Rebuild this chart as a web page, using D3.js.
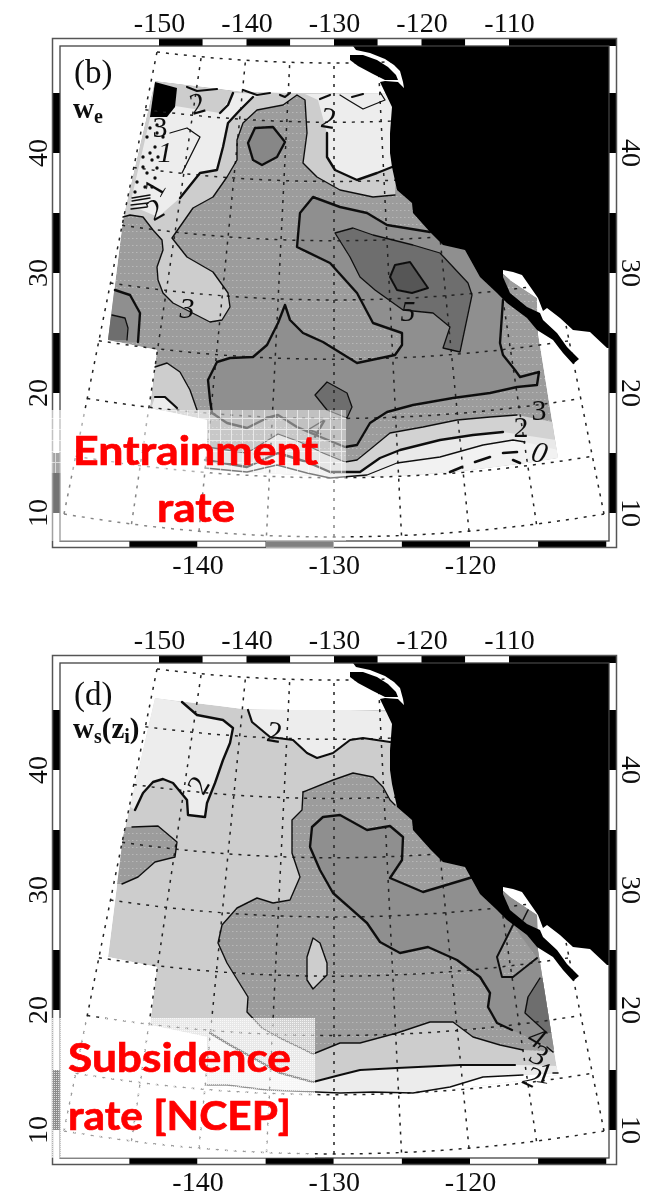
<!DOCTYPE html>
<html><head><meta charset="utf-8">
<script src="https://cdn.jsdelivr.net/npm/d3@7"></script>
<style>html,body{margin:0;padding:0;background:#fff}svg{display:block}text{font-family:"Liberation Serif",serif}</style>
</head><body><svg id="c" width="656" height="1196"></svg>
<script>
// ---- axes
const topLon=[-150,-140,-130,-120,-110], bottomLon=[-140,-130,-120], latLabels=[10,20,30,40];
const lonGrid=[-150,-145,-140,-135,-130,-125,-120,-115,-110], latGrid=[10,15,20,25,30,35,40,45,50];
// ---- shared map outlines (map units of panel b)
const domainOutline=[[155,81],[187,85],[220,89],[243,92],[290,93],[360,93],[396,93],[420,200],[510,280],[537,298],[538,333],[558,458],[527,463],[463,471],[403,476],[335,477],[207,470],[207,420],[150,408],[157,350],[108,340],[123,220]];
const landOutline=[[353,46],[356,50],[370,53],[385,59],[394,65],[400,71],[403,82],[404,88],[398,82],[385,81],[380,82],[392,107],[390,133],[390,153],[392,167],[397,190],[412,203],[413,213],[430,232],[443,245],[465,250],[480,277],[497,293],[507,303],[527,318],[537,330],[553,340],[563,353],[573,364],[579,359],[567,347],[557,333],[543,320],[540,313],[527,307],[510,293],[503,277],[503,270],[513,272],[522,275],[538,298],[543,311],[547,308],[560,318],[573,330],[590,332],[607,348],[609,348],[609,46]];
const islandOutline=[[350,55],[363,55],[377,60],[388,67],[396,75],[398,80],[385,80],[373,74],[358,66],[350,60]];
// ---- panel b contours
const bUpper=[[123,217],[130,215],[143,217],[153,230],[162,240],[163,250],[157,267],[158,280],[163,293],[173,303],[210,322],[222,320],[230,307],[228,293],[213,272],[187,257],[172,238],[193,208],[213,197],[227,177],[237,160],[237,140],[243,123],[257,110],[283,105],[297,95],[305,100],[307,133],[303,163],[317,177],[340,190],[373,197],[395,195]];
const bMain=[[430,232],[387,225],[367,213],[340,207],[313,197],[300,213],[297,247],[330,263],[357,293],[373,323],[402,333],[402,345],[395,355],[357,363],[323,342],[303,333],[290,320],[285,305],[278,323],[267,345],[253,357],[230,358],[217,362],[208,380],[210,400],[212,413],[227,423],[247,428],[267,418],[278,415],[297,427],[323,438],[345,447],[357,445],[370,423],[387,412],[413,405],[453,398],[490,393],[517,387],[537,385],[539,372],[520,377],[515,370],[503,355],[500,343],[503,300]];
const bDark=[[335,233],[353,228],[373,235],[413,245],[440,253],[468,283],[472,295],[460,352],[443,348],[450,327],[433,313],[403,310],[375,290],[360,277],[350,257]];
const bCore=[[390,277],[395,265],[410,262],[428,288],[412,293],[397,290]];
const bNorthCell=[[248,143],[255,128],[273,127],[285,142],[277,157],[262,165],[253,160]];
const bWestCell=[[115,290],[130,295],[140,313],[138,342]];
const bWestCore=[[112,315],[125,318],[128,328],[127,340]];
const bSouthCell=[[315,395],[327,382],[347,393],[352,407],[347,418],[327,410]];
const bLowLeft=[[155,367],[167,363],[180,372],[190,390],[197,410]];
const bLowLeftInner=[[155,397],[165,397],[177,408]];
const bLightWest=[[150,118],[175,106],[220,113],[233,93],[272,94],[253,97],[240,110],[228,123],[223,147],[217,170],[200,173],[180,198],[158,217],[130,205]];
const bLightEast=[[318,100],[327,133],[327,157],[335,170],[357,180],[377,173],[392,167]];
const bInnerThin=[[170,133],[187,128],[200,137],[182,173]];
const bBand2=[[207,447],[247,453],[278,434],[300,442],[323,453],[345,462],[357,460],[373,447],[390,433],[423,427],[457,420],[490,417],[517,415]];
const bBand3=[[205,460],[247,467],[278,453],[307,462],[330,472],[360,472],[380,458],[400,450],[440,440],[473,435],[503,432]];
const bBand4=[[205,468],[247,472],[277,465],[307,473],[330,478],[367,475],[397,463],[440,457],[483,445],[513,440],[525,442]];
const bDashes=[[[450,472],[462,467]],[[475,462],[490,457]],[[503,453],[517,452]],[[513,460],[520,463]]];
const bTopBits=[[[187,87],[197,91],[217,89]],[[243,90],[257,95],[270,93]],[[280,95],[285,97],[290,93]],[[320,99],[330,95]],[[352,97],[363,94]]];
const bThickBits=[[[233,93],[228,105],[220,113]]];
const bThinBits=[[[340,95],[348,100],[363,109],[385,100],[380,92]]];
const bSpeckle=[[157,125],[150,128],[157,133],[147,137],[163,137],[155,147],[150,153],[158,157],[143,157],[152,160],[143,167],[157,168],[147,173],[155,178],[145,187],[137,182],[135,192],[152,187]];
const bStrokes=[[[132,198],[150,195]],[[132,201],[150,198]],[[131,205],[148,203]],[[131,209],[147,207]]];
const bBlob=[[155,82],[177,88],[175,107],[167,117],[150,117]];
const bNumbers=[["2",200,113,-15,0],["2",327,128,10,0],["3",160,137,0,0],["1",165,162,0,1],["1",163,193,-60,0],["2",160,218,-30,0],["3",187,318,0,1],["5",408,321,0,1],["3",539,420,0,0],["2",521,437,0,0],["0",537,462,15,1],["4",313,437,20,1]];
// ---- panel d contours
const dNorthWest=[[182,702],[197,715],[223,720],[233,728],[230,743],[223,760],[215,783],[207,803],[205,817],[188,815],[187,800],[173,783],[163,779],[153,782],[143,793],[135,810]];
const dNorthEast=[[248,710],[252,722],[258,727],[270,737],[293,740],[307,753],[317,758],[333,753],[350,740],[363,738],[390,742]];
const dMid=[[303,792],[333,780],[353,773],[373,777],[383,787],[390,800],[395,805]];
const dMidLeft=[[303,792],[302,810],[292,820],[292,853],[300,877],[290,900],[273,903],[257,898],[237,908],[222,925],[218,943],[227,963],[248,997],[247,1012],[262,1028],[280,1038],[313,1054],[340,1043],[360,1043],[397,1033],[430,1022],[453,1022],[473,1037],[500,1045],[523,1050]];
const dMain=[[473,877],[423,892],[390,878],[402,860],[403,837],[390,826],[367,830],[340,815],[323,817],[312,827],[310,847],[320,870],[333,893],[367,923],[380,942],[400,953],[428,947],[457,960],[480,977],[490,993],[488,1007],[497,1023],[512,1030]];
const dGulfLobe=[[513,925],[497,957],[502,977],[513,977],[537,958]];
const dWestLobe=[[132,827],[158,826],[177,842],[175,857],[155,862],[138,877],[122,884]];
const dTear=[[313,938],[307,957],[307,980],[313,989],[327,975],[327,963],[320,943]];
const dEastCell=[[540,978],[528,997],[525,1013],[547,1033]];
const dBand2=[[210,1033],[230,1045],[257,1060],[280,1073],[313,1082],[340,1075],[360,1070],[397,1068],[460,1065],[515,1065]];
const dBand3=[[207,1085],[227,1085],[267,1090],[340,1093],[373,1092],[413,1093],[450,1087],[483,1077],[523,1075]];
const dBits=[[[528,910],[523,920]],[[547,1047],[553,1052]],[[553,1073],[558,1073]]];
const dNumbers=[["2",273,742,10,0],["2",207,790,-60,0],["4",532,1046,30,1],["3",535,1064,25,1],["2",528,1086,25,1],["1",543,1083,10,1]];

const svg=d3.select("#c");
const defs=svg.append("defs");
const dots=defs.append("pattern").attr("id","dots").attr("width",4).attr("height",7).attr("patternUnits","userSpaceOnUse");
dots.append("rect").attr("width",1.5).attr("height",1).attr("fill","#fff").attr("opacity",.28);
const gridP=defs.append("pattern").attr("id","gridP").attr("width",11).attr("height",11).attr("patternUnits","userSpaceOnUse");
gridP.append("rect").attr("width",11).attr("height",11).attr("fill","#fff").attr("opacity",.45);
gridP.append("path").attr("d","M0 .5H11M.5 0V11").attr("stroke","#fff").attr("stroke-width",1).attr("opacity",.6);
const fineP=defs.append("pattern").attr("id","fineP").attr("width",2).attr("height",2).attr("patternUnits","userSpaceOnUse");
fineP.append("rect").attr("width",2).attr("height",2).attr("fill","#fff").attr("opacity",.55);
fineP.append("rect").attr("width",1).attr("height",1).attr("fill","#fff").attr("opacity",.7);
defs.append("filter").attr("id","soft").attr("x","-2%").attr("y","-2%").attr("width","104%").attr("height","104%").append("feGaussianBlur").attr("stdDeviation",.45);

const xMap=d3.scaleLinear([0,656],[0,656]);
const yAbs=d3.scaleLinear([0,1196],[0,1196]);
const PANEL_SHIFT=617;
const yShifted=d3.scaleLinear([0,600],[PANEL_SHIFT,600+PANEL_SHIFT]);
const lineOf=y=>d3.line().x(d=>xMap(d[0])).y(d=>y(d[1]));

// graticule through scales of latitude
const rowY=d3.scaleLinear([10,50],[537,63]);
const perDeg=d3.scaleLinear([10,50],[13.5,8.85]);
const sag=d3.scaleLinear([10,50],[.0575,.0275]);
const project=(lon,lat)=>{const dl=lon+130;return [334+dl*perDeg(lat),rowY(lat)-sag(lat)*dl*dl];};
const topTick=d3.scaleLinear([-150,-110],[159,509]);
const botTick=d3.scaleLinear([-140,-120],[197.5,470]);
const latTick=d3.scaleLinear([10,40],[513,153]);

function fill(g,pts,color,y,pattern){
  const d=lineOf(y)(pts)+"Z";
  g.append("path").attr("d",d).attr("fill",color);
  if(pattern) g.append("path").attr("d",d).attr("fill","url(#dots)");
}
function stroke(g,pts,w,y,closed){
  g.append("path").attr("d",lineOf(y)(pts)+(closed?"Z":"")).attr("fill","none").attr("stroke","#111").attr("stroke-width",w).attr("stroke-linejoin","round").attr("stroke-linecap","round");
}
function number(g,rows,y){
  rows.forEach(([t,px,py,rot,it])=>{
    g.append("text").text(t).attr("transform",`translate(${xMap(px)},${y(py)}) rotate(${rot})`)
     .attr("text-anchor","middle").attr("font-size",30).attr("font-style",it?"italic":"normal").attr("fill","#111");
  });
}

function frame(root,dy){
  const h=root.append("g").attr("transform",`translate(0,${dy})`);
  const band=(x,y,w,ht,c)=>h.append("rect").attr("x",x).attr("y",y).attr("width",w).attr("height",ht).attr("fill",c);
  lonGrid.slice(0,-1).forEach((l,i)=>band(topTick(l),38,topTick(l+5)-topTick(l),8,i%2?"#fff":"#000"));
  band(topTick(-110),38,617-topTick(-110),8,"#000");
  lonGrid.slice(1,-1).forEach((l,i)=>band(botTick(l),541,botTick(l+5)-botTick(l),7,i%2?"#fff":"#000"));
  latGrid.slice(0,-2).forEach((l,i)=>{
    const c=i%2?"#fff":"#000";
    band(52,latTick(l+5),8,latTick(l)-latTick(l+5),c);
    band(609,latTick(l+5),8,latTick(l)-latTick(l+5),c);
  });
  h.append("rect").attr("x",52.5).attr("y",38.5).attr("width",564).attr("height",509).attr("fill","none").attr("stroke","#555").attr("stroke-width",1.5);
  h.append("rect").attr("x",60).attr("y",46).attr("width",549).attr("height",495).attr("fill","none").attr("stroke","#444").attr("stroke-width",1.3);
  const styleAxis=a=>{a.select(".domain").remove();a.selectAll("line").remove();a.selectAll("text").attr("font-family","Liberation Serif").attr("font-size",28).attr("fill","#111");};
  h.append("g").attr("transform","translate(0,39)").call(d3.axisTop(topTick).tickValues(topLon).tickSize(0).tickPadding(7).tickFormat(d=>String(d))).call(styleAxis);
  h.append("g").attr("transform","translate(0,546)").call(d3.axisBottom(botTick).tickValues(bottomLon).tickSize(0).tickPadding(8).tickFormat(d=>String(d))).call(styleAxis);
  latLabels.forEach(v=>{
    h.append("text").text(v).attr("transform",`translate(47,${latTick(v)}) rotate(-90)`).attr("text-anchor","middle").attr("font-size",28).attr("fill","#111");
    h.append("text").text(v).attr("transform",`translate(622,${latTick(v)}) rotate(90)`).attr("text-anchor","middle").attr("font-size",28).attr("fill","#111");
  });
}

function graticule(g,dy){
  const gr=d3.line();
  const draw=pts=>g.append("path").attr("d",gr(pts.map(p=>[p[0],p[1]+dy]))).attr("fill","none").attr("stroke","#222").attr("stroke-width",1.5).attr("stroke-dasharray","3 6");
  lonGrid.forEach(l=>draw(d3.range(10,50.01,2).map(a=>project(l,a))));
  latGrid.forEach(a=>draw(d3.range(-150,-109.9,2).map(l=>project(l,a))));
}
function landLayer(g,y){
  g.append("path").attr("d",lineOf(y)(landOutline)+"Z").attr("fill","#000");
  g.append("path").attr("d",lineOf(y)(islandOutline)+"Z").attr("fill","#000");
}
const soft=g=>g.attr("filter","url(#soft)");

// ======= PANEL B
const gb=soft(svg.append("g"));
defs.append("clipPath").attr("id","domB").append("path").attr("d",lineOf(yAbs)(domainOutline)+"Z");
const mb=gb.append("g").attr("clip-path","url(#domB)");
const M="#8f8f8f",S="#9c9c9c",L="#cdcdcd",E="#ededed",D="#6e6e6e";
fill(mb,domainOutline,S,yAbs,true);
fill(mb,[...bUpper,[400,93],[290,93],[243,92],[155,81]],L,yAbs);
fill(mb,[...bLightWest],E,yAbs);
fill(mb,[...bLightEast,[400,93],[305,94]],E,yAbs);
fill(mb,[...bMain,[520,250]],M,yAbs);
fill(mb,bDark,D,yAbs);
fill(mb,bCore,"#565656",yAbs);
fill(mb,bNorthCell,"#878787",yAbs);
fill(mb,[...bWestCell,[100,342],[100,290]],M,yAbs);
fill(mb,[...bWestCore,[100,340],[100,315]],D,yAbs);
fill(mb,bSouthCell,D,yAbs);
fill(mb,[...bLowLeft,[150,412]],L,yAbs);
fill(mb,[...bLowLeftInner,[150,412]],E,yAbs);
const bTail=[[558,458],[527,463],[463,471],[403,476],[335,477],[205,475]];
fill(mb,[...bBand2,[553,422],...bTail],"#d2d2d2",yAbs);
fill(mb,[...bBand3,[556,440],...bTail],"#e9e9e9",yAbs);
fill(mb,[...bBand4,[558,450],...bTail],"#f2f2f2",yAbs);
fill(mb,bBlob,"#000",yAbs);
graticule(gb,0);
stroke(gb,bUpper,1.4,yAbs);
stroke(gb,bMain,2.4,yAbs);
stroke(gb,bDark,1.3,yAbs,true);
stroke(gb,bCore,2,yAbs,true);
stroke(gb,bNorthCell,2.4,yAbs,true);
stroke(gb,bWestCell,2.4,yAbs);
stroke(gb,bWestCore,1.3,yAbs);
stroke(gb,bSouthCell,1.3,yAbs,true);
stroke(gb,bLowLeft,1.4,yAbs);
stroke(gb,bLowLeftInner,2.2,yAbs);
stroke(gb,bLightWest.slice(5,12),2.4,yAbs);
stroke(gb,bLightEast.slice(1),2.4,yAbs);
stroke(gb,bInnerThin,1.3,yAbs);
stroke(gb,bBand2,1.3,yAbs);
stroke(gb,bBand3,2.4,yAbs);
stroke(gb,bBand4,1.3,yAbs);
bDashes.forEach(p=>stroke(gb,p,2.6,yAbs));
bTopBits.forEach(p=>stroke(gb,p,2.2,yAbs));
bThickBits.forEach(p=>stroke(gb,p,2.4,yAbs));
bThinBits.forEach(p=>stroke(gb,p,1.3,yAbs));
bStrokes.forEach(p=>stroke(gb,p,1.4,yAbs));
gb.selectAll("circle.sp").data(bSpeckle).join("circle").attr("class","sp").attr("cx",d=>xMap(d[0])).attr("cy",d=>yAbs(d[1])).attr("r",1.7).attr("fill","#111");
landLayer(gb,yAbs);
frame(gb,0);
number(gb,bNumbers,yAbs);
gb.append("text").text("(b)").attr("x",74).attr("y",83).attr("font-size",33).attr("fill","#111");
const wb=gb.append("text").attr("x",73).attr("y",118).attr("font-size",29).attr("font-weight","bold").attr("fill","#111");
wb.append("tspan").text("w");wb.append("tspan").text("e").attr("font-size",20).attr("dy",5);
gb.append("rect").attr("x",51).attr("y",410).attr("width",295).attr("height",63).attr("fill","url(#gridP)");
gb.append("rect").attr("x",51).attr("y",410).attr("width",159).attr("height",63).attr("fill","#fff").attr("opacity",.35);
gb.append("rect").attr("x",51).attr("y",473).attr("width",295).attr("height",68).attr("fill","#fff").attr("opacity",.45);
gb.append("rect").attr("x",266).attr("y",541).attr("width",68).attr("height",7).attr("fill","#fff").attr("opacity",.5);
const red=(g,t,x,y,len)=>g.append("text").text(t).attr("x",x).attr("y",y).attr("fill","#ff0000").attr("stroke","#ff0000").attr("stroke-width",.7).attr("font-weight",700).attr("font-size",40).attr("textLength",len).attr("lengthAdjust","spacingAndGlyphs").style("font-family","Lato");
red(svg,"Entrainment",73,465,245);
red(svg,"rate",157,522,78);

// ======= PANEL D
const gd=soft(svg.append("g"));
defs.append("clipPath").attr("id","domD").append("path").attr("d",lineOf(yShifted)(domainOutline)+"Z");
const md=gd.append("g").attr("clip-path","url(#domD)");
fill(md,domainOutline,L,yShifted);
fill(md,[...dNorthWest,[120,800],[150,697]],E,yAbs);
fill(md,[...dNorthEast,[400,712],[300,708]],E,yAbs);
fill(md,[...dMid,[560,880],[560,1052],...dMidLeft.slice().reverse()],S,yAbs,true);
fill(md,[...dWestLobe,[100,884],[100,827]],S,yAbs,true);
fill(md,[...dMain,[560,1052],[560,900],[520,870]],M,yAbs);
fill(md,dGulfLobe,S,yAbs,true);
fill(md,dTear,L,yAbs);
fill(md,[...dEastCell,[560,1033],[560,978]],D,yAbs);
fill(md,[...dBand2,[560,1066],[560,1100],[205,1100]],"#d9d9d9",yAbs);
fill(md,[...dBand3,[560,1073],[560,1110],[205,1110]],"#fff",yAbs);
fill(md,[...dBand2,[560,1066],[560,1073],...dBand3.slice().reverse()],"#ececec",yAbs);
graticule(gd,PANEL_SHIFT);
stroke(gd,dNorthWest,2.4,yAbs);
stroke(gd,dNorthEast,2.2,yAbs);
stroke(gd,dMid,1.4,yAbs);
stroke(gd,dMidLeft,1.4,yAbs);
stroke(gd,dMain,2.4,yAbs);
stroke(gd,dGulfLobe,2,yAbs);
stroke(gd,dWestLobe,1.4,yAbs);
stroke(gd,dTear,1.4,yAbs,true);
stroke(gd,dEastCell,1.4,yAbs);
stroke(gd,dBand2,2.2,yAbs);
stroke(gd,dBand3,1.4,yAbs);
dBits.forEach(p=>stroke(gd,p,1.6,yAbs));
landLayer(gd,yShifted);
frame(gd,PANEL_SHIFT);
number(gd,dNumbers,yAbs);
gd.append("text").text("(d)").attr("x",74).attr("y",705).attr("font-size",33).attr("fill","#111");
const wd=gd.append("text").attr("x",73).attr("y",738).attr("font-size",29).attr("font-weight","bold").attr("fill","#111");
wd.append("tspan").text("w");wd.append("tspan").text("s").attr("font-size",20).attr("dy",5);
wd.append("tspan").text("(z").attr("dy",-5);wd.append("tspan").text("i").attr("font-size",20).attr("dy",5);wd.append("tspan").text(")").attr("dy",-5);
gd.append("rect").attr("x",51).attr("y",1018).attr("width",264).attr("height",75).attr("fill","url(#fineP)");
gd.append("rect").attr("x",51).attr("y",1093).attr("width",264).attr("height",65).attr("fill","url(#fineP)");
red(svg,"Subsidence",68,1072,223);
red(svg,"rate [NCEP]",68,1130,223);
</script></body></html>
